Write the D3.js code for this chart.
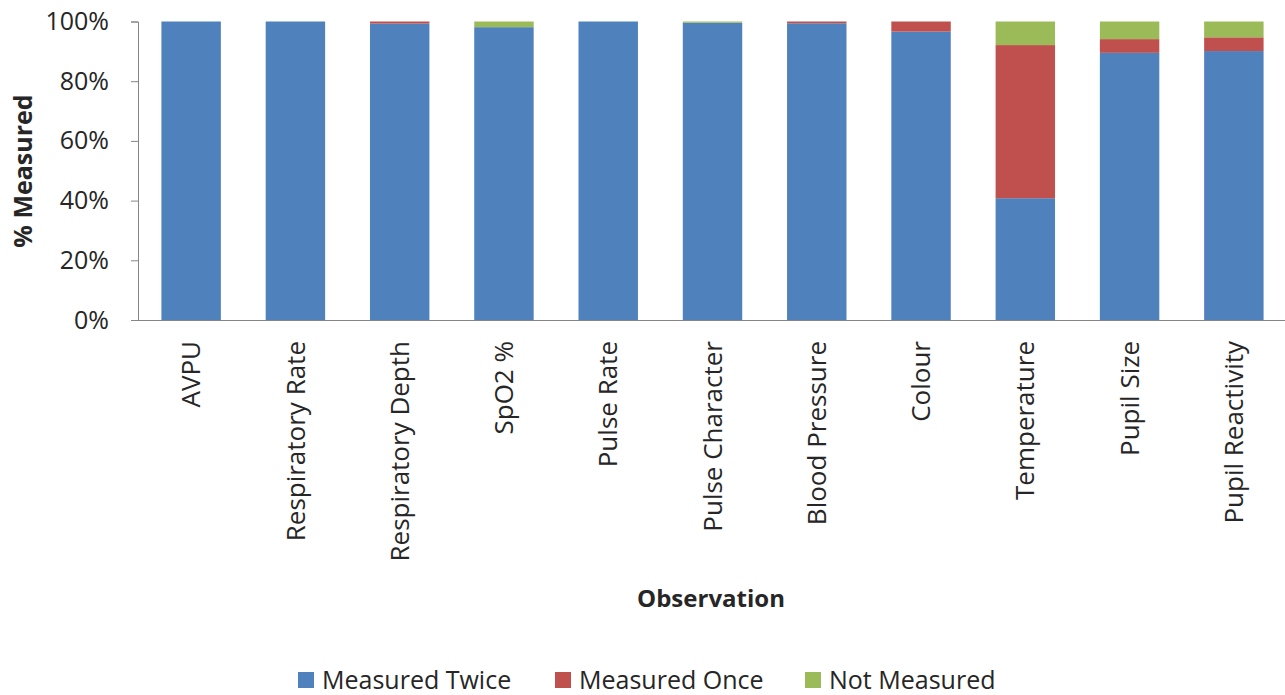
<!DOCTYPE html>
<html>
<head>
<meta charset="utf-8">
<script src="https://cdn.jsdelivr.net/npm/d3@7"></script>
<style>
  body { margin: 0; background: #fff; }
  text { font-family: "Open Sans", sans-serif; fill: #262626; }
</style>
</head>
<body>
<div class="chart"></div>
<script>
const w = 1285;
const h = 695;

// data
const categories = ["AVPU", "Respiratory Rate", "Respiratory Depth", "SpO2 %", "Pulse Rate",
  "Pulse Character", "Blood Pressure", "Colour", "Temperature", "Pupil Size", "Pupil Reactivity"];
const measuredTwice = [100, 100, 99.3, 98.1, 100, 99.6, 99.4, 96.6, 40.8, 89.5, 90.1];
const measuredOnce = [0, 0, 0.7, 0, 0, 0, 0.6, 3.4, 51.3, 4.6, 4.6];
const notMeasured = [0, 0, 0, 1.9, 0, 0.4, 0, 0, 7.9, 5.9, 5.3];
const seriesNames = ["Measured Twice", "Measured Once", "Not Measured"];
const colours = ["#4f81bd", "#c0504d", "#9bbb59"];

const plotLeft = 138, plotRight = 1285, plotTop = 21.5, plotBottom = 320;

const svg = d3.select(".chart").append("svg")
  .attr("width", w)
  .attr("height", h);

const rows = categories.map((c, i) => ({
  cat: c,
  "Measured Twice": measuredTwice[i],
  "Measured Once": measuredOnce[i],
  "Not Measured": notMeasured[i]
}));

const stacked = d3.stack().keys(seriesNames)(rows);

const xScale = d3.scaleBand()
  .domain(categories)
  .range([plotLeft, plotRight])
  .paddingInner(0.43)
  .paddingOuter(0.215);

const yScale = d3.scaleLinear()
  .domain([0, 100])
  .range([plotBottom, plotTop]);

// bars
svg.selectAll("g.series")
  .data(stacked)
  .enter()
  .append("g")
  .attr("class", "series")
  .attr("fill", (d, i) => colours[i])
  .selectAll("rect")
  .data(d => d)
  .enter()
  .append("rect")
  .attr("x", d => xScale(d.data.cat) + 1)
  .attr("y", d => yScale(d[1]))
  .attr("width", xScale.bandwidth())
  .attr("height", d => yScale(d[0]) - yScale(d[1]));

// y axis
const yAxis = d3.axisLeft(yScale)
  .tickValues([0, 20, 40, 60, 80, 100])
  .tickFormat(d => d + "%")
  .tickSizeOuter(0)
  .tickSize(7)
  .tickPadding(22);

const gy = svg.append("g")
  .attr("transform", `translate(${plotLeft},0)`)
  .call(yAxis);
gy.select(".domain").attr("stroke", "#868686");
gy.selectAll(".tick line").attr("stroke", "#868686");
gy.selectAll(".tick text").style("font-size", "25px").attr("fill", "#262626");

// x axis
const xAxis = d3.axisBottom(xScale).tickSize(0).tickSizeOuter(0).tickPadding(0);
const gx = svg.append("g")
  .attr("transform", `translate(0,${plotBottom})`)
  .call(xAxis);
gx.select(".domain").attr("stroke", "#868686").attr("d", `M${plotLeft},0.5H${plotRight}`);
gx.selectAll(".tick text")
  .style("font-size", "26px")
  .attr("fill", "#262626")
  .attr("transform", "rotate(-90)")
  .attr("text-anchor", "end")
  .attr("x", -21)
  .attr("y", 1)
  .attr("dy", "0.35em");

// axis titles
svg.append("text")
  .attr("transform", "translate(32,171) rotate(-90)")
  .attr("text-anchor", "middle")
  .style("font-size", "25px")
  .style("font-weight", "bold")
  .attr("fill", "#000")
  .text("% Measured");

svg.append("text")
  .attr("x", 711)
  .attr("y", 607)
  .attr("text-anchor", "middle")
  .style("font-size", "24px")
  .style("font-weight", "bold")
  .attr("fill", "#000")
  .text("Observation");

// legend
const legendX = [298, 555, 805];
const legend = svg.selectAll("g.legend")
  .data(seriesNames)
  .enter()
  .append("g")
  .attr("class", "legend")
  .attr("transform", (d, i) => `translate(${legendX[i]},672)`);

legend.append("rect")
  .attr("width", 16)
  .attr("height", 16)
  .attr("fill", (d, i) => colours[i]);

legend.append("text")
  .attr("x", 24)
  .attr("y", 8)
  .attr("dy", "0.35em")
  .style("font-size", "25px")
  .attr("fill", "#262626")
  .text(d => d);
</script>
</body>
</html>
